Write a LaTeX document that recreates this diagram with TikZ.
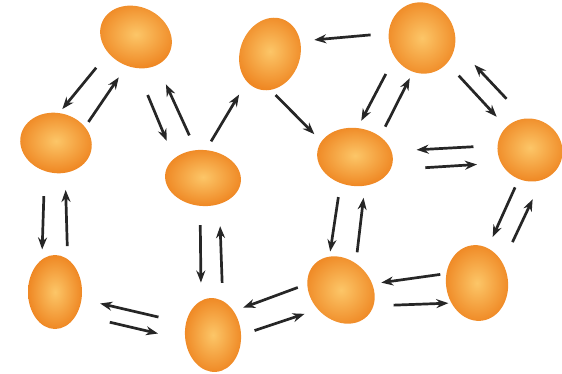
\documentclass[tikz,border=0pt]{standalone}
\usetikzlibrary{arrows.meta,shapes.geometric}
\definecolor{yolk}{RGB}{252,198,104}
\definecolor{shell}{RGB}{239,136,36}
\tikzset{egg/.style={ellipse,inner sep=0pt,shading=radial,inner color=yolk,outer color=shell},
 flow/.style={-{Stealth[length=12pt,width=9pt]},line width=2.7pt,black!85}}
\begin{document}
\begin{tikzpicture}[x=1pt,y=-1pt]
\useasboundingbox (0,0) rectangle (562,374);
\node[egg,minimum width=74pt,minimum height=60pt,rotate=-25](a) at (136,37){};
\node[egg,minimum width=60pt,minimum height=74pt,rotate=-20](b) at (270,54){};
\node[egg,minimum width=66pt,minimum height=72pt,rotate=20](c) at (422,38){};
\node[egg,minimum width=72pt,minimum height=60pt,rotate=-12](d) at (56,143){};
\node[egg,minimum width=76pt,minimum height=56pt,rotate=-5](e) at (203,178){};
\node[egg,minimum width=76pt,minimum height=58pt,rotate=-8](f) at (355,157){};
\node[egg,minimum width=66pt,minimum height=62pt,rotate=-30](g) at (530,150){};
\node[egg,minimum width=54pt,minimum height=74pt](h) at (55,292){};
\node[egg,minimum width=56pt,minimum height=74pt,rotate=5](i) at (213,335){};
\node[egg,minimum width=74pt,minimum height=60pt,rotate=-45](j) at (341,290){};
\node[egg,minimum width=62pt,minimum height=76pt,rotate=8](k) at (477,283){};
\draw[flow,shorten <=19pt,shorten >=5pt](a.235)--(d.96);
\draw[flow,shorten <=6pt,shorten >=14pt](d.41)--(a.277);
\draw[flow,shorten <=29pt,shorten >=19pt](a.296)--(e.151);
\draw[flow,shorten <=16pt,shorten >=21pt](e.109)--(a.332);
\draw[flow,shorten <=10pt,shorten >=15pt](e.89)--(b.250);
\draw[flow,shorten <=7pt,shorten >=10pt](b.291)--(f.163);
\draw[flow,shorten <=18pt,shorten >=14pt](c.152)--(b.43);
\draw[flow,shorten <=19pt,shorten >=8pt](c.195)--(f.93);
\draw[flow,shorten <=11pt,shorten >=7pt](f.47)--(c.235);
\draw[flow,shorten <=17pt,shorten >=14pt](c.295)--(g.166);
\draw[flow,shorten <=27pt,shorten >=28pt](g.129)--(c.329);
\draw[flow,shorten <=24pt,shorten >=25pt](g.202)--(f.17);
\draw[flow,shorten <=35pt,shorten >=24pt](f.348)--(g.234);
\draw[flow,shorten <=25pt,shorten >=10pt](d.260)--(h.112);
\draw[flow,shorten <=13pt,shorten >=17pt](h.69)--(d.299);
\draw[flow,shorten <=19pt,shorten >=18pt](e.269)--(i.104);
\draw[flow,shorten <=18pt,shorten >=22pt](i.69)--(e.307);
\draw[flow,shorten <=28pt,shorten >=19pt](i.152)--(h.345);
\draw[flow,shorten <=34pt,shorten >=28pt](h.314)--(i.185);
\draw[flow,shorten <=10pt,shorten >=10pt](j.215)--(i.44);
\draw[flow,shorten <=14pt,shorten >=14pt](i.355)--(j.265);
\draw[flow,shorten <=14pt,shorten >=5pt](f.249)--(j.154);
\draw[flow,shorten <=11pt,shorten >=12pt](j.106)--(f.297);
\draw[flow,shorten <=6pt,shorten >=9pt](k.155)--(j.56);
\draw[flow,shorten <=20pt,shorten >=3pt](j.19)--(k.210);
\draw[flow,shorten <=9pt,shorten >=12pt](g.279)--(k.65);
\draw[flow,shorten <=23pt,shorten >=21pt](k.30)--(g.321);
\end{tikzpicture}
\end{document}
